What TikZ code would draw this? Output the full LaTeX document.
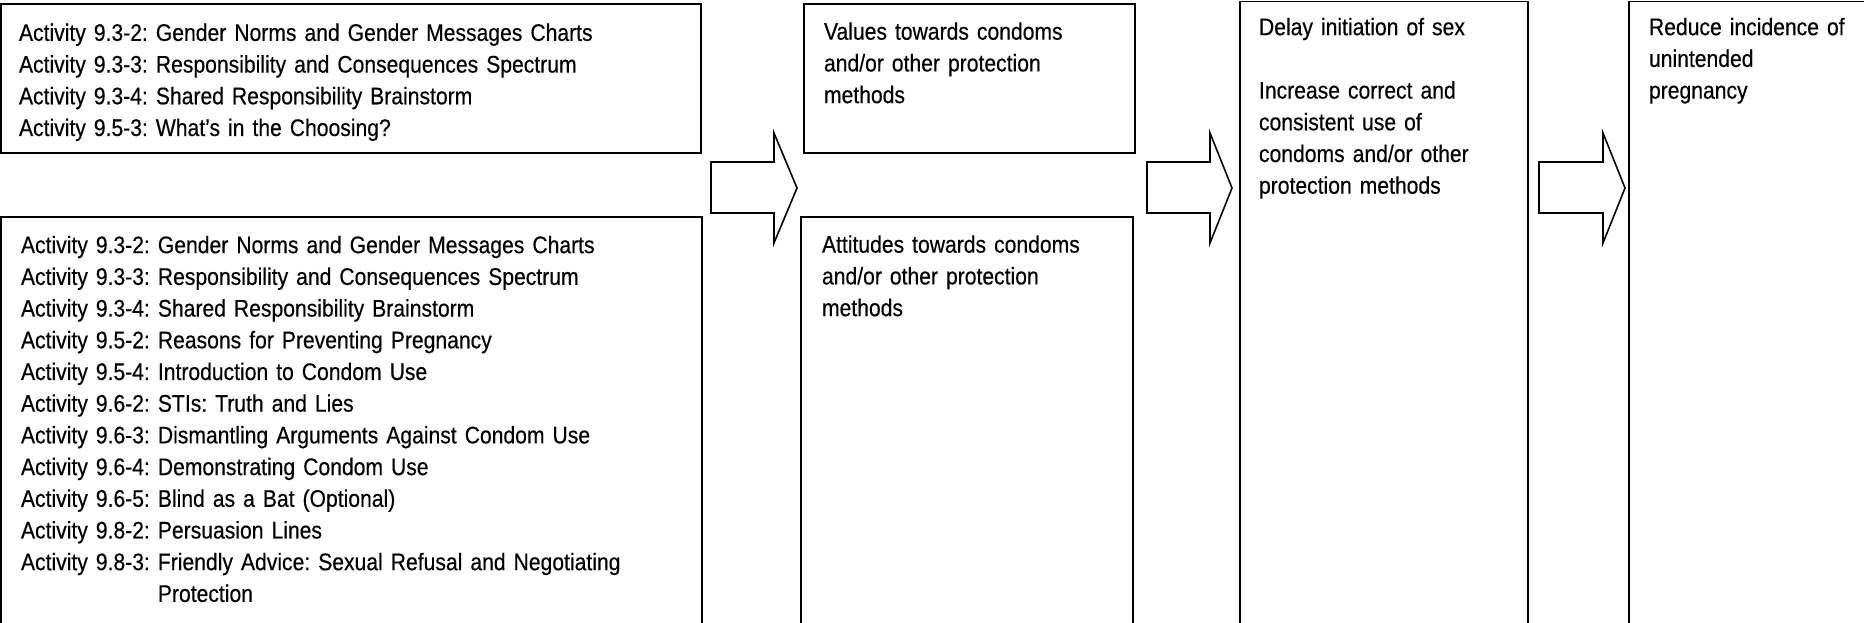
\documentclass[tikz,border=0pt]{standalone}
\usepackage{fontspec}
\setmainfont[FakeStretch=0.88,FakeBold=0.35]{Liberation Sans}
\frenchspacing
\begin{document}
\begin{tikzpicture}[x=1pt,y=-1pt,
  boxframe/.style={draw=black, line width=#1, fill=white, inner sep=0pt, outer sep=0pt, anchor=north west},
  txt/.style={font=\fontsize{24}{31.7}\selectfont, align=left, inner sep=0pt, outer sep=0pt, anchor=north west, text width=#1},
  blockarrow/.style={draw=black, line width=1.6pt, fill=white, line join=miter}
]
\useasboundingbox (0,0) rectangle (1864,623);
\clip (0,0) rectangle (1864,623);
\fill[white] (0,0) rectangle (1864,623);

% boxes
\node[boxframe=2.4pt, minimum width=700pt, minimum height=149pt] (b1) at (1,4) {};
\node[boxframe=2.4pt, minimum width=701pt, minimum height=440pt] (b2) at (1,217) {};
\node[boxframe=2.0pt, minimum width=331pt, minimum height=149pt] (b3) at (804,4) {};
\node[boxframe=2.0pt, minimum width=332pt, minimum height=440pt] (b4) at (801,217) {};
\node[boxframe=1.8pt, minimum width=288pt, minimum height=660pt] (b5) at (1240,1.5) {};
\node[boxframe=1.8pt, minimum width=300pt, minimum height=660pt] (b6) at (1629,1.5) {};

% texts
\node[txt=670pt] (t1) at (19,23.5) {Activity 9.3-2: Gender Norms and Gender Messages Charts\\
Activity 9.3-3: Responsibility and Consequences Spectrum\\
Activity 9.3-4: Shared Responsibility Brainstorm\\
Activity 9.5-3: What’s in the Choosing?};

\node[txt=670pt] (t2) at (21,235.8) {Activity 9.3-2: Gender Norms and Gender Messages Charts\\
Activity 9.3-3: Responsibility and Consequences Spectrum\\
Activity 9.3-4: Shared Responsibility Brainstorm\\
Activity 9.5-2: Reasons for Preventing Pregnancy\\
Activity 9.5-4: Introduction to Condom Use\\
Activity 9.6-2: STIs: Truth and Lies\\
Activity 9.6-3: Dismantling Arguments Against Condom Use\\
Activity 9.6-4: Demonstrating Condom Use\\
Activity 9.6-5: Blind as a Bat (Optional)\\
Activity 9.8-2: Persuasion Lines\\
Activity 9.8-3: Friendly Advice: Sexual Refusal and Negotiating\\
\phantom{Activity 9.8-3: }Protection};

\node[txt=305pt] (t3) at (824,22.3) {Values towards condoms\\
and/or other protection\\
methods};

\node[txt=305pt] (t4) at (822,235.3) {Attitudes towards condoms\\
and/or other protection\\
methods};

\node[txt=265pt] (t5) at (1259,17.8) {Delay initiation of sex\\[31.7pt]
Increase correct and\\
consistent use of\\
condoms and/or other\\
protection methods};

\node[txt=212pt] (t6) at (1649,17.8) {Reduce incidence of\\
unintended\\
pregnancy};

% block arrows
\draw[blockarrow] (711,162) -- (774,162) -- (774,133) -- (797,188) -- (774,243) -- (774,213) -- (711,213) -- cycle;
\draw[blockarrow] (1147,162) -- (1210,162) -- (1210,133) -- (1232,188) -- (1210,243) -- (1210,213) -- (1147,213) -- cycle;
\draw[blockarrow] (1539,162) -- (1603,162) -- (1603,133) -- (1625,188) -- (1603,243) -- (1603,213) -- (1539,213) -- cycle;
\end{tikzpicture}
\end{document}
